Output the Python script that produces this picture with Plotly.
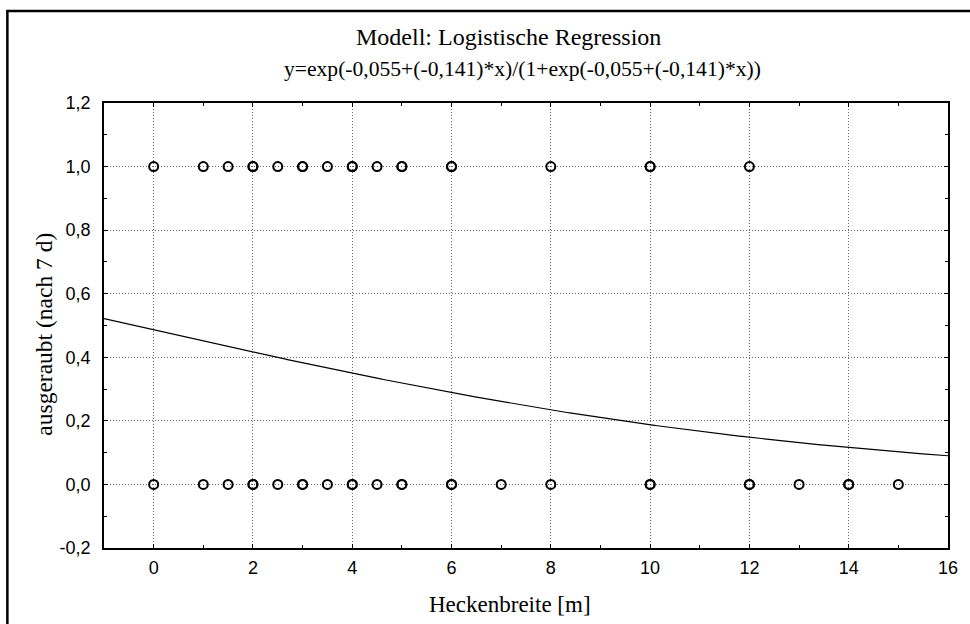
import numpy as np
import plotly.graph_objects as go

# Observations: hedge width [m] for plots robbed (1) and not robbed (0) after 7 days
x_robbed = [0, 1, 1.5, 2, 2, 2.5, 3, 3, 3.5, 4, 4, 4.5, 5, 5, 6, 6, 8, 10, 10, 12]
x_not_robbed = [0, 1, 1.5, 2, 2, 2.5, 3, 3, 3.5, 4, 4, 4.5, 5, 5, 6, 6, 7, 8,
                10, 10, 12, 12, 13, 14, 14, 15]

# Fitted logistic model coefficients
b0 = -0.055
b1 = -0.141

x_tickvals = [0, 2, 4, 6, 8, 10, 12, 14, 16]
y_tickvals = [-0.2, 0.0, 0.2, 0.4, 0.6, 0.8, 1.0, 1.2]
y_ticktext = ["-0,2", "0,0", "0,2", "0,4", "0,6", "0,8", "1,0", "1,2"]

title_text = "Modell: Logistische Regression"
subtitle_text = "y=exp(-0,055+(-0,141)*x)/(1+exp(-0,055+(-0,141)*x))"
x_title = "Heckenbreite [m]"
y_title = "ausgeraubt (nach 7 d)"

xs = np.linspace(-1, 16, 300)
ys = np.exp(b0 + b1 * xs) / (1 + np.exp(b0 + b1 * xs))

serif = "Liberation Serif, Times New Roman, serif"
sans = "Liberation Sans, Arial, sans-serif"

marker_style = dict(symbol="circle-open", size=9, color="black",
                    line=dict(color="black", width=2))

fig = go.Figure()
fig.add_trace(go.Scatter(x=xs, y=ys, mode="lines",
                         line=dict(color="black", width=1.2),
                         hoverinfo="skip", showlegend=False))
fig.add_trace(go.Scatter(x=x_robbed, y=[1.0] * len(x_robbed), mode="markers",
                         marker=marker_style, showlegend=False))
fig.add_trace(go.Scatter(x=x_not_robbed, y=[0.0] * len(x_not_robbed), mode="markers",
                         marker=marker_style, showlegend=False))

axis_common = dict(
    showline=True, linecolor="black", linewidth=1.5, mirror="allticks",
    ticks="inside", ticklen=4, tickcolor="black", tickwidth=1,
    showgrid=True, gridcolor="#666666", gridwidth=1, griddash="1px,2px",
    zeroline=False,
    tickfont=dict(family=sans, size=18, color="black"),
)

fig.update_xaxes(**axis_common, range=[-1, 16], tickvals=x_tickvals,
                 ticklabelstandoff=3,
                 minor=dict(ticks="inside", ticklen=3, dtick=1, tick0=0,
                            tickcolor="black", showgrid=False))
fig.update_yaxes(**axis_common, range=[-0.2, 1.2], tickvals=y_tickvals,
                 ticktext=y_ticktext, ticklabelstandoff=8,
                 minor=dict(ticks="inside", ticklen=3, dtick=0.1, tick0=0,
                            tickcolor="black", showgrid=False))

annotations = [
    dict(text=title_text, x=0.479, y=1.148, font=dict(family=serif, size=24)),
    dict(text=subtitle_text, x=0.496, y=1.076, font=dict(family=serif, size=21.6)),
    dict(text=x_title, x=0.481, y=-0.126, font=dict(family=serif, size=23)),
    dict(text=y_title, x=-0.0708, y=0.48, textangle=-90,
         font=dict(family=serif, size=23.5)),
]
for a in annotations:
    a.update(xref="paper", yref="paper", showarrow=False,
             xanchor="center", yanchor="middle")
    a["font"]["color"] = "black"

fig.update_layout(
    width=970, height=624,
    margin=dict(l=104, r=18, t=103, b=76),
    paper_bgcolor="white", plot_bgcolor="white",
    annotations=annotations,
    shapes=[dict(type="rect", xref="paper", yref="paper",
                 x0=-0.1145, x1=1.2, y0=-0.4, y1=1.2067,
                 line=dict(color="black", width=2.5), layer="above")],
)

fig.write_html("out.html")
